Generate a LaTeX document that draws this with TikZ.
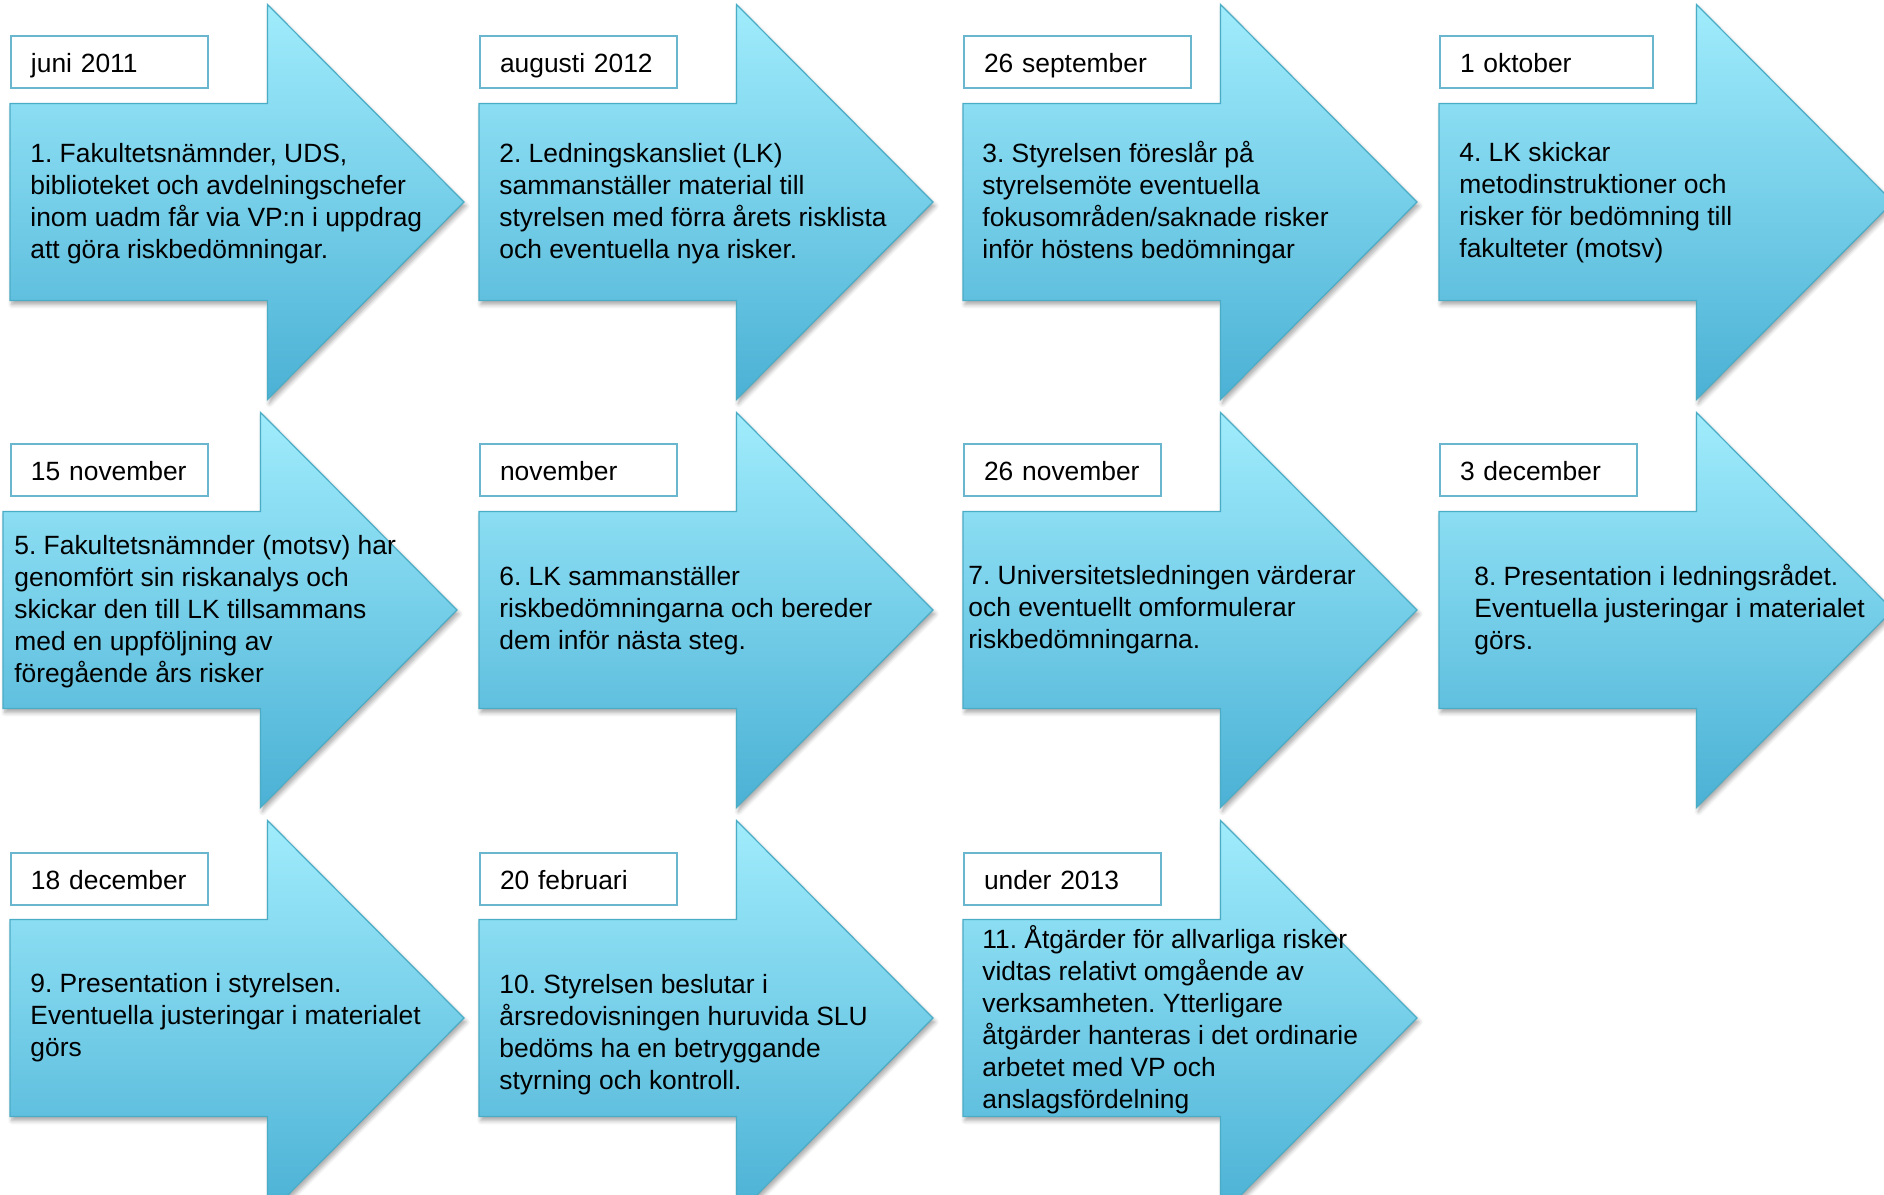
\documentclass[tikz,border=0pt]{standalone}
\usepackage{fontspec}
\setmainfont{Liberation Sans}
\usepackage{xcolor}
\usetikzlibrary{shadows.blur}

\definecolor{piltop}{HTML}{A0ECFC}
\definecolor{pilbot}{HTML}{4BB1D5}
\definecolor{pilline}{HTML}{4BACC6}
\definecolor{datumline}{HTML}{6AB6CE}

\begin{document}
\begin{tikzpicture}[x=0.5pt,y=-0.5pt]
\tikzset{every node/.style={font=\fontsize{13.2pt}{16pt}\selectfont\frenchspacing}}
\tikzset{pil/.style={draw=pilline, line width=0.6pt, top color=piltop, bottom color=pilbot, blur shadow={shadow xshift=1pt, shadow yshift=-2pt, shadow opacity=35, shadow blur steps=6}}}
\tikzset{datum/.style={draw=datumline, line width=1pt, fill=white, anchor=north west, minimum height=26pt, inner xsep=10pt, inner ysep=0pt, text height=12pt, text depth=2pt, text width=78.5pt, align=left}}
\tikzset{steg/.style={anchor=west, align=left, inner sep=0pt}}

\clip (0,0) rectangle (1884,1194);

\foreach \l/\c in {10/202,479/202,963/202,1439/202,3/610,479/610,963/610,1439/610,10/1018,479/1018,963/1018}
  \draw[pil] (\l,\c-98.5) -- ++(257.5,0) -- ++(0,-99) -- (\l+454,\c) -- (\l+257.5,\c+197.5) -- ++(0,-99) -- (\l,\c+98.5) -- cycle;

\node[datum] (datum1) at (10,35) {juni 2011};
\node[datum] (datum2) at (479,35) {augusti 2012};
\node[datum, text width=93.5pt] (datum3) at (963,35) {26 september};
\node[datum, text width=86.5pt] (datum4) at (1439,35) {1 oktober};
\node[datum] (datum5) at (10,443) {15 november};
\node[datum] (datum6) at (479,443) {november};
\node[datum] (datum7) at (963,443) {26 november};
\node[datum] (datum8) at (1439,443) {3 december};
\node[datum] (datum9) at (10,852) {18 december};
\node[datum] (datum10) at (479,852) {20 februari};
\node[datum] (datum11) at (963,852) {under 2013};

\node[steg] (steg1) at (30,204) {1. Fakultetsnämnder, UDS,\\biblioteket och avdelningschefer\\inom uadm får via VP:n i uppdrag\\att göra riskbedömningar.};
\node[steg] (steg2) at (499,204) {2. Ledningskansliet (LK)\\sammanställer material till\\styrelsen med förra årets risklista\\och eventuella nya risker.};
\node[steg] (steg3) at (982,203) {3. Styrelsen föreslår på\\styrelsemöte eventuella\\fokusområden/saknade risker\\inför höstens bedömningar};
\node[steg] (steg4) at (1459,203) {4. LK skickar\\metodinstruktioner och\\risker för bedömning till\\fakulteter (motsv)};
\node[steg] (steg5) at (14,612) {5. Fakultetsnämnder (motsv) har\\genomfört sin riskanalys och\\skickar den till LK tillsammans\\med en uppföljning av\\föregående års risker};
\node[steg] (steg6) at (499,611) {6. LK sammanställer\\riskbedömningarna och bereder\\dem inför nästa steg.};
\node[steg] (steg7) at (968,610) {7. Universitetsledningen värderar\\och eventuellt omformulerar\\riskbedömningarna.};
\node[steg] (steg8) at (1474,610) {8. Presentation i ledningsrådet.\\Eventuella justeringar i materialet\\görs.};
\node[steg] (steg9) at (30,1018) {9. Presentation i styrelsen.\\Eventuella justeringar i materialet\\görs};
\node[steg] (steg10) at (499,1035) {10. Styrelsen beslutar i\\årsredovisningen huruvida SLU\\bedöms ha en betryggande\\styrning och kontroll.};
\node[steg] (steg11) at (982,1020) {11. Åtgärder för allvarliga risker\\vidtas relativt omgående av\\verksamheten. Ytterligare\\åtgärder hanteras i det ordinarie\\arbetet med VP och\\anslagsfördelning};

\end{tikzpicture}
\end{document}
